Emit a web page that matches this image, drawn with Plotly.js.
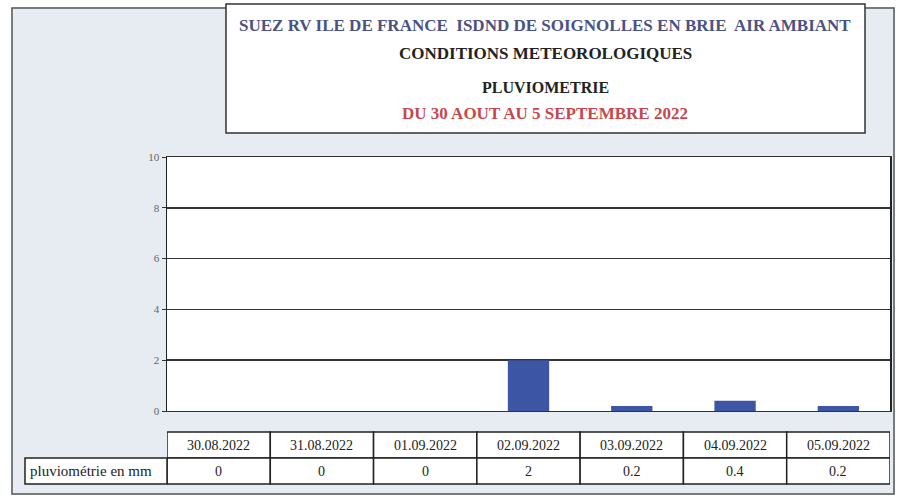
<!DOCTYPE html>
<html><head><meta charset="utf-8">
<script src="https://cdn.plot.ly/plotly-3.0.1.min.js"></script>
<style>html,body{margin:0;padding:0;background:#fff}</style>
</head><body><div id="chart" style="width:908px;height:499px"></div>
<script>
const dates = ["30.08.2022","31.08.2022","01.09.2022","02.09.2022","03.09.2022","04.09.2022","05.09.2022"];
const rain = [0, 0, 0, 2, 0.2, 0.4, 0.2];
const rainLabels = ["0","0","0","2","0.2","0.4","0.2"];
const rowLabel = "pluviométrie en mm";
const titleLines = ["SUEZ RV ILE DE FRANCE  ISDND DE SOIGNOLLES EN BRIE  AIR AMBIANT","CONDITIONS METEOROLOGIQUES","PLUVIOMETRIE","DU 30 AOUT AU 5 SEPTEMBRE 2022"];
const yTicks = [0,2,4,6,8,10];

const L=167, R=890, T=157, B=411, W=908, H=499;
const px2x = p => (p - L)/(R - L);
const py2y = p => (B - p)/(B - T);

const shapes = [];
const ann = [];
shapes.push({type:'rect',xref:'paper',yref:'paper',x0:px2x(12),x1:px2x(894),y0:py2y(8),y1:py2y(494),line:{color:'#555',width:1.5},fillcolor:'rgba(0,0,0,0)',layer:'above'});
shapes.push({type:'rect',xref:'paper',yref:'paper',x0:px2x(0),x1:px2x(11),y0:py2y(0),y1:py2y(499),line:{width:0},fillcolor:'#fff'});
shapes.push({type:'rect',xref:'paper',yref:'paper',x0:px2x(895),x1:px2x(908),y0:py2y(0),y1:py2y(499),line:{width:0},fillcolor:'#fff'});
shapes.push({type:'rect',xref:'paper',yref:'paper',x0:px2x(0),x1:px2x(908),y0:py2y(0),y1:py2y(7),line:{width:0},fillcolor:'#fff'});
shapes.push({type:'rect',xref:'paper',yref:'paper',x0:px2x(0),x1:px2x(908),y0:py2y(495),y1:py2y(499),line:{width:0},fillcolor:'#fff'});
shapes.push({type:'rect',xref:'paper',yref:'paper',x0:px2x(226),x1:px2x(865),y0:py2y(4),y1:py2y(133),line:{color:'#333',width:1.5},fillcolor:'#fff'});
const tl = [{y:25,c:'#4a5285',s:17},{y:53,c:'#222',s:17},{y:87,c:'#222',s:16},{y:113,c:'#c9474a',s:17}];
titleLines.forEach((t,i)=>ann.push({xref:'paper',yref:'paper',x:px2x(545),y:py2y(tl[i].y),text:'<b>'+t+'</b>',showarrow:false,font:{family:'Liberation Serif',size:tl[i].s,color:tl[i].c},xanchor:'center',yanchor:'middle'}));
const r0=432, r1=458, r2=484;
dates.forEach((d,i)=>{
  shapes.push({type:'rect',xref:'x',yref:'paper',x0:i-0.5,x1:i+0.5,y0:py2y(r1),y1:py2y(r0),line:{color:'#222',width:1.5},fillcolor:'#fff'});
  shapes.push({type:'rect',xref:'x',yref:'paper',x0:i-0.5,x1:i+0.5,y0:py2y(r2),y1:py2y(r1),line:{color:'#222',width:1.5},fillcolor:'#fff'});
  ann.push({xref:'x',yref:'paper',x:i,y:py2y((r0+r1)/2),yanchor:'middle',text:d,showarrow:false,font:{family:'Liberation Serif',size:14,color:'#222'}});
  ann.push({xref:'x',yref:'paper',x:i,y:py2y((r1+r2)/2),yanchor:'middle',text:rainLabels[i],showarrow:false,font:{family:'Liberation Serif',size:14,color:'#222'}});
});
shapes.push({type:'rect',xref:'paper',yref:'paper',x0:px2x(25),x1:px2x(167),y0:py2y(r2),y1:py2y(r1),line:{color:'#222',width:1.5},fillcolor:'#fff'});
ann.push({xref:'paper',yref:'paper',x:px2x(28),y:py2y((r1+r2)/2),yanchor:'middle',text:rowLabel,showarrow:false,xanchor:'left',font:{family:'Liberation Serif',size:15,color:'#222'}});

const data = [{type:'bar',x:dates,y:rain,width:0.4,marker:{color:'#3c55a5',line:{width:0}},hoverinfo:'skip'}];
const layout = {
  width:W,height:H,margin:{l:L,r:W-R,t:T,b:H-B,pad:0},
  paper_bgcolor:'#e7ebf2',plot_bgcolor:'#fff',showlegend:false,
  xaxis:{type:'category',range:[-0.5,6.5],showticklabels:false,ticks:'',showgrid:false,zeroline:false,showline:true,mirror:true,linecolor:'#333',linewidth:1},
  yaxis:{range:[0,10],tickvals:yTicks,ticktext:yTicks.map(String),ticks:'outside',ticklen:4,tickcolor:'#333',showline:true,linecolor:'#222',linewidth:1.5,mirror:true,showgrid:true,gridcolor:'#333',gridwidth:1.5,zeroline:false,tickfont:{family:'Liberation Serif',size:11,color:'#666'}},
  shapes:shapes,annotations:ann
};
Plotly.newPlot('chart',data,layout,{staticPlot:true});
</script></body></html>
